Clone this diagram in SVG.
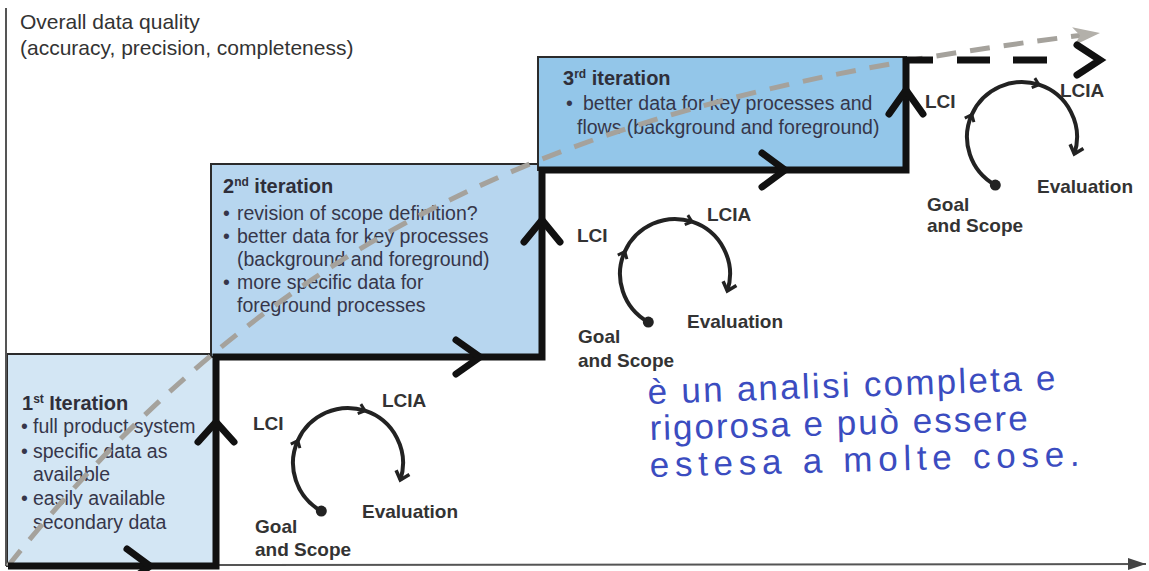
<svg xmlns="http://www.w3.org/2000/svg" width="1149" height="571" viewBox="0 0 1149 571">
<style>
  .bg{fill:#ffffff}
  .box{stroke:#2b2b2b;stroke-width:2}
  .b1{fill:#d3e6f4}
  .b2{fill:#b7d6ef}
  .b3{fill:#93c6e9}
  .ttl{font-family:"Liberation Sans",Arial,sans-serif;font-size:20px;font-weight:bold;fill:#2f2f3a}
  .sup{font-size:12px}
  .txt{font-family:"Liberation Sans",Arial,sans-serif;font-size:19.5px;fill:#36364a}
  .axt{font-family:"Liberation Sans",Arial,sans-serif;font-size:21px;fill:#333}
  .lbl{font-family:"Liberation Sans",Arial,sans-serif;font-size:19px;font-weight:bold;fill:#333}
  .stair{fill:none;stroke:#111;stroke-width:7;stroke-linejoin:miter}
  .chev{fill:none;stroke:#111;stroke-width:7;stroke-linecap:round;stroke-linejoin:miter}
  .qual{fill:none;stroke:#a5a29c;stroke-width:5;stroke-dasharray:20 14}
  .cyc{fill:none;stroke:#222;stroke-width:4}
  .axis{fill:none;stroke:#555;stroke-width:2}
  .hand{font-family:"Liberation Sans",Arial,sans-serif;font-size:35px;fill:#3b4cc0}
</style>
<defs>
  <marker id="cycEnd" viewBox="-12 -10 16 20" markerWidth="16" markerHeight="20" refX="0" refY="0" orient="auto" markerUnits="userSpaceOnUse">
    <path d="M -8 -7 L 0 0 L -8 7" fill="none" stroke="#222" stroke-width="3.5"/>
  </marker>
  <marker id="cycMid" viewBox="-12 -10 16 20" markerWidth="16" markerHeight="20" refX="0" refY="0" orient="auto" markerUnits="userSpaceOnUse">
    <path d="M -6 -5 L 0 0 L -6 5" fill="none" stroke="#222" stroke-width="3"/>
  </marker>
  <marker id="greyArrow" viewBox="-30 -12 32 24" markerWidth="32" markerHeight="24" refX="0" refY="0" orient="auto" markerUnits="userSpaceOnUse">
    <path d="M -27 -9 L 0 0 L -27 9 L -20 0 Z" fill="#b3b0aa"/>
  </marker>
  <marker id="axArrow" viewBox="-20 -8 22 16" markerWidth="22" markerHeight="16" refX="0" refY="0" orient="auto" markerUnits="userSpaceOnUse">
    <path d="M -18 -6 L 0 0 L -18 6 Z" fill="#444"/>
  </marker>
  <g id="cycleShape">
    <path class="cyc" d="M -26.7 48.1 A 55 55 0 0 1 -50.2 -22.4 A 55 55 0 0 1 17 -52.3 A 55 55 0 0 1 52.3 17" marker-mid="url(#cycMid)" marker-end="url(#cycEnd)"/>
    <circle cx="-26.7" cy="48.1" r="5.5" fill="#222"/>
  </g>
</defs>
<rect class="bg" x="0" y="0" width="1149" height="571"/>

<g id="box1">
  <rect class="box b1" x="7" y="354" width="207" height="212"/>
  <text class="ttl" x="22" y="410">1<tspan class="sup" dy="-7">st</tspan><tspan dy="7"> Iteration</tspan></text>
  <text class="txt" x="21" y="433">•</text><text class="txt" x="33" y="433">full product system</text>
  <text class="txt" x="21" y="458">•</text><text class="txt" x="33" y="458">specific data as</text>
  <text class="txt" x="33" y="481">available</text>
  <text class="txt" x="21" y="505">•</text><text class="txt" x="33" y="505">easily available</text>
  <text class="txt" x="33" y="529">secondary data</text>
</g>

<g id="box2">
  <rect class="box b2" x="211" y="164" width="331" height="193"/>
  <text class="ttl" x="223" y="193">2<tspan class="sup" dy="-7">nd</tspan><tspan dy="7"> iteration</tspan></text>
  <text class="txt" x="223" y="220">•</text><text class="txt" x="237" y="220">revision of scope definition?</text>
  <text class="txt" x="223" y="243">•</text><text class="txt" x="237" y="243">better data for key processes</text>
  <text class="txt" x="237" y="266">(background and foreground)</text>
  <text class="txt" x="223" y="289">•</text><text class="txt" x="237" y="289">more specific data for</text>
  <text class="txt" x="237" y="312">foreground processes</text>
</g>

<g id="box3">
  <rect class="box b3" x="538" y="57" width="368" height="113"/>
  <text class="ttl" x="563" y="85">3<tspan class="sup" dy="-7">rd</tspan><tspan dy="7"> iteration</tspan></text>
  <text class="txt" x="566" y="110">•</text><text class="txt" x="583" y="110">better data for key processes and</text>
  <text class="txt" x="577" y="134">flows (background and foreground)</text>
</g>

<g id="axes">
  <line class="axis" x1="6" y1="8" x2="6" y2="566" stroke-width="2.5"/>
  <line class="axis" x1="216" y1="565" x2="1146" y2="564" marker-end="url(#axArrow)"/>
  <text class="axt" x="20" y="29">Overall data quality</text>
  <text class="axt" x="20" y="55">(accuracy, precision, completeness)</text>
</g>

<g id="cycle1">
  <use href="#cycleShape" transform="translate(348,463)"/>
  <text class="lbl" x="253" y="430">LCI</text>
  <text class="lbl" x="382" y="407">LCIA</text>
  <text class="lbl" x="362" y="518">Evaluation</text>
  <text class="lbl" x="255" y="533">Goal</text>
  <text class="lbl" x="255" y="556">and Scope</text>
</g>

<g id="cycle2">
  <use href="#cycleShape" transform="translate(675,274)"/>
  <text class="lbl" x="577" y="242">LCI</text>
  <text class="lbl" x="707" y="221">LCIA</text>
  <text class="lbl" x="687" y="328">Evaluation</text>
  <text class="lbl" x="578" y="343">Goal</text>
  <text class="lbl" x="578" y="367">and Scope</text>
</g>

<g id="cycle3">
  <use href="#cycleShape" transform="translate(1022,137)"/>
  <text class="lbl" x="925" y="108">LCI</text>
  <text class="lbl" x="1060" y="97">LCIA</text>
  <text class="lbl" x="1037" y="193">Evaluation</text>
  <text class="lbl" x="927" y="211">Goal</text>
  <text class="lbl" x="927" y="232">and Scope</text>
</g>

<g id="connectors">
  <path class="qual" d="M 8 566 C 300 200, 620 91, 1100 33" marker-end="url(#greyArrow)"/>
  <path class="stair" d="M 8 566 H 216 V 357 H 542 V 170 H 906 V 57"/>
  <path class="stair" d="M 906 60 H 1047" stroke-dasharray="27 24 33 23 34"/>
  <path class="chev" d="M 127 549 L 150 566 L 127 583"/>
  <path class="chev" d="M 198 442 L 216 422 L 234 442"/>
  <path class="chev" d="M 456 340 L 480 357 L 456 374"/>
  <path class="chev" d="M 524 242 L 542 220 L 560 242"/>
  <path class="chev" d="M 762 153 L 785 170 L 762 187"/>
  <path class="chev" d="M 889 114 L 906 90 L 923 114"/>
  <path class="chev" d="M 1077 45 L 1100 60 L 1077 75"/>
</g>

<g id="note">
  <text class="hand" x="648" y="404" textLength="408" lengthAdjust="spacing" transform="rotate(-2 648 404)">è un analisi completa e</text>
  <text class="hand" x="650" y="440" textLength="378" lengthAdjust="spacing" transform="rotate(-1.5 650 440)">rigorosa e può essere</text>
  <text class="hand" x="650" y="477" textLength="430" lengthAdjust="spacing" transform="rotate(-1.5 650 477)">estesa a molte cose.</text>
</g>
</svg>
